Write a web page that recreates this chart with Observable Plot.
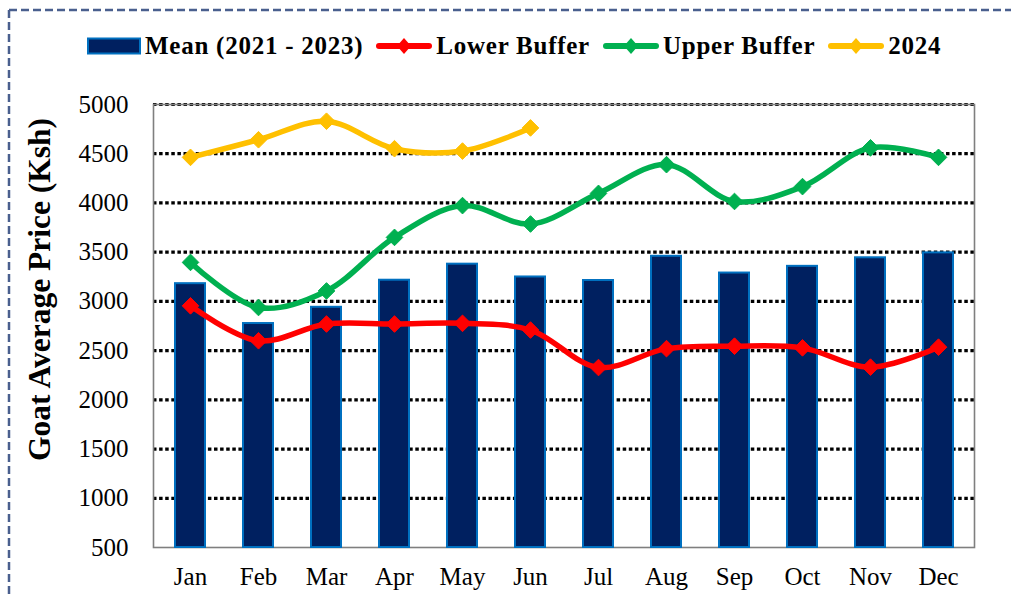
<!DOCTYPE html>
<html>
<head>
<meta charset="utf-8">
<script src="https://cdn.jsdelivr.net/npm/d3@7"></script>
<script src="https://cdn.jsdelivr.net/npm/@observablehq/plot@0.6"></script>
<style>
  html, body { margin: 0; padding: 0; background: #fff; }
  #wrap { position: relative; width: 1011px; height: 594px; overflow: hidden; background: #fff;
          font-family: "Liberation Serif", "Times New Roman", serif; }
  #border { position: absolute; left: 0; top: 0; }
  #legend { position: absolute; left: 87px; top: 32px; display: flex; align-items: center;
            font-weight: bold; font-size: 25px; letter-spacing: 0.75px; color: #000; white-space: nowrap; }
  #legend .item { display: flex; align-items: center; margin-right: 13px; }
  #legend svg { margin-right: 4px; }
  #chart { position: absolute; left: 0; top: 64px; }
</style>
</head>
<body>
<div id="wrap">
  <svg id="border" width="1011" height="594"></svg>
  <div id="legend"></div>
  <div id="chart"></div>
</div>
<script>
const months = ["Jan","Feb","Mar","Apr","May","Jun","Jul","Aug","Sep","Oct","Nov","Dec"];
const meanValues  = [3180, 2775, 2940, 3215, 3378, 3248, 3212, 3458, 3288, 3356, 3443, 3493];
const lowerValues = [2955, 2600, 2770, 2770, 2777, 2709, 2328, 2520, 2545, 2528, 2332, 2535];
const upperValues = [3396, 2938, 3106, 3650, 3973, 3786, 4097, 4389, 4015, 4166, 4560, 4463];
const months2024  = ["Jan","Feb","Mar","Apr","May","Jun"];
const values2024  = [4463, 4642, 4830, 4551, 4527, 4762];
const yTicks = [500, 1000, 1500, 2000, 2500, 3000, 3500, 4000, 4500, 5000];
const gridTicks = [1000, 1500, 2000, 2500, 3000, 3500, 4000, 4500, 5000];

const seriesNames = ["Mean (2021 - 2023)", "Lower Buffer", "Upper Buffer", "2024"];
const seriesColors = ["#002060", "#FF0000", "#00B050", "#FFC000"];

const meanRows = months.map((m, i) => ({month: m, value: meanValues[i]}));
const lowerRows = months.map((m, i) => ({month: m, value: lowerValues[i]}));
const upperRows = months.map((m, i) => ({month: m, value: upperValues[i]}));
const rows2024 = months2024.map((m, i) => ({month: m, value: values2024[i]}));

const FONT = '"Liberation Serif", "Times New Roman", serif';

function lineMarks(rows, color) {
  return [
    Plot.line(rows, {x: "month", y: "value", stroke: color, strokeWidth: 5.5, curve: "catmull-rom", strokeLinecap: "round"}),
    Plot.dot(rows, {x: "month", y: "value", symbol: "diamond2", fill: color, stroke: color, strokeWidth: 1, r: 7.5})
  ];
}

const chart = Plot.plot({
  width: 1011,
  height: 530,
  marginTop: 40,
  marginBottom: 47,
  marginLeft: 153,
  marginRight: 37,
  style: {fontFamily: FONT, fontSize: "25px", color: "#000", background: "transparent", overflow: "visible"},
  x: {domain: months, paddingInner: 0.56, paddingOuter: 0.28, label: null},
  y: {domain: [500, 5000], label: null},
  marks: [
    Plot.gridY(gridTicks, {stroke: "#000", strokeOpacity: 1, strokeWidth: 3.2, strokeDasharray: "3.5,2.6"}),
    Plot.frame({stroke: "#7f7f7f", strokeWidth: 1.6}),
    Plot.barY(meanRows, {x: "month", y1: 500, y2: "value", fill: "#002060", stroke: "#0070C0", strokeWidth: 2}),
    ...lineMarks(lowerRows, seriesColors[1]),
    ...lineMarks(upperRows, seriesColors[2]),
    ...lineMarks(rows2024, seriesColors[3]),
    Plot.axisY(yTicks, {tickSize: 0, tickPadding: 25, fontSize: 25, tickFormat: d => String(d), label: null}),
    Plot.axisX({tickSize: 0, tickPadding: 20, fontSize: 25, label: null})
  ]
});
document.getElementById("chart").appendChild(chart);

// Y axis title
d3.select(chart).append("text")
  .attr("transform", "translate(50, 225.5) rotate(-90)")
  .attr("text-anchor", "middle")
  .attr("font-family", FONT)
  .attr("font-weight", "bold")
  .attr("font-size", 31.5)
  .attr("fill", "#000")
  .text("Goat Average Price (Ksh)");

// Legend
const legend = d3.select("#legend");
seriesNames.forEach((name, i) => {
  const item = legend.append("div").attr("class", "item");
  const sw = item.append("svg").attr("width", 56).attr("height", 20);
  if (i === 0) {
    sw.attr("width", 54);
    sw.append("rect").attr("x", 1).attr("y", 2.5).attr("width", 52).attr("height", 15)
      .attr("fill", "#002060").attr("stroke", "#0070C0").attr("stroke-width", 2);
  } else {
    sw.append("line").attr("x1", 3).attr("x2", 53).attr("y1", 10).attr("y2", 10)
      .attr("stroke", seriesColors[i]).attr("stroke-width", 6).attr("stroke-linecap", "round");
    sw.append("path").attr("d", "M28,2 L35,10 L28,18 L21,10 Z").attr("fill", seriesColors[i]);
  }
  item.append("span").text(name);
});

// Dashed frame around the figure
const b = d3.select("#border");
b.append("line").attr("x1", 9).attr("x2", 1011).attr("y1", 10).attr("y2", 10)
  .attr("stroke", "#4a5f8e").attr("stroke-width", 2.5).attr("stroke-dasharray", "8,4");
b.append("line").attr("x1", 9).attr("x2", 9).attr("y1", 10).attr("y2", 594)
  .attr("stroke", "#4a5f8e").attr("stroke-width", 2.5).attr("stroke-dasharray", "8,4");
</script>
</body>
</html>
